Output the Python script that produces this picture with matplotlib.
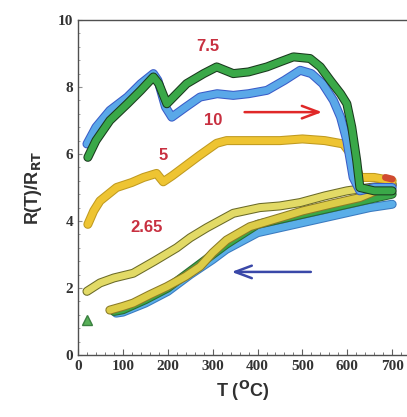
import numpy as np
import matplotlib
matplotlib.use("Agg")
import matplotlib.pyplot as plt
import matplotlib.patheffects as pe
from matplotlib.ticker import MultipleLocator

# heating curves
t_blue_up = [20, 40, 71, 110, 140, 168, 178, 195, 209, 240, 272, 310, 346, 380, 421, 460, 495, 520, 545, 569, 585, 599, 613, 628, 660, 700]
r_blue_up = [6.3, 6.8, 7.3, 7.7, 8.1, 8.4, 8.2, 7.4, 7.1, 7.4, 7.7, 7.8, 7.75, 7.8, 7.9, 8.2, 8.5, 8.4, 8.1, 7.6, 7.1, 6.4, 5.3, 4.9, 5.0, 5.0]

t_green_up = [22, 40, 71, 110, 140, 168, 180, 198, 220, 242, 280, 309, 346, 380, 421, 450, 480, 517, 540, 562, 585, 599, 610, 621, 628, 660, 700]
r_green_up = [5.9, 6.4, 7.0, 7.5, 7.9, 8.3, 8.1, 7.5, 7.8, 8.1, 8.4, 8.6, 8.4, 8.45, 8.6, 8.75, 8.9, 8.85, 8.6, 8.2, 7.8, 7.5, 6.8, 5.8, 5.0, 4.9, 4.9]

t_yel_up = [22, 35, 49, 86, 120, 146, 175, 190, 210, 235, 270, 309, 331, 400, 450, 500, 550, 591, 613, 628, 660, 700]
r_yel_up = [3.9, 4.3, 4.6, 5.0, 5.15, 5.3, 5.42, 5.17, 5.35, 5.6, 5.95, 6.32, 6.4, 6.4, 6.4, 6.45, 6.4, 6.3, 5.9, 5.3, 5.3, 5.2]

# cooling curves
t_265_dn = [700, 650, 599, 550, 495, 450, 405, 346, 287, 250, 220, 170, 123, 80, 49, 20]
r_265_dn = [5.07, 5.0, 4.9, 4.75, 4.55, 4.45, 4.4, 4.23, 3.8, 3.5, 3.2, 2.8, 2.44, 2.3, 2.15, 1.9]

t_yel_dn = [700, 628, 569, 500, 458, 383, 331, 300, 272, 240, 198, 160, 123, 100, 71]
r_yel_dn = [5.1, 4.7, 4.52, 4.3, 4.13, 3.83, 3.43, 3.05, 2.64, 2.35, 2.04, 1.8, 1.55, 1.45, 1.34]

t_green_dn = [700, 650, 600, 500, 400, 330, 300, 250, 200, 150, 100, 80]
r_green_dn = [4.8, 4.65, 4.5, 4.2, 3.9, 3.3, 3.0, 2.5, 2.0, 1.65, 1.35, 1.3]

t_blue_dn = [700, 650, 600, 500, 400, 330, 300, 250, 200, 150, 100, 85]
r_blue_dn = [4.5, 4.4, 4.25, 3.95, 3.65, 3.15, 2.85, 2.4, 1.9, 1.55, 1.28, 1.25]

labels = ["7.5", "10", "5", "2.65"]
label_xy = [(290, 9.2), (301, 7.0), (190, 5.97), (153, 3.8)]

fig = plt.figure(figsize=(4.07, 4.17), dpi=100)
ax = fig.add_axes([0.1916, 0.1487, 0.8084, 0.8033])


def band(x, y, face, edge, lw=5.0, z=2):
    ax.plot(x, y, color=face, lw=lw, solid_capstyle="round", solid_joinstyle="round", zorder=z,
            path_effects=[pe.Stroke(linewidth=lw + 1.5, foreground=edge), pe.Normal()])


band(t_blue_dn, r_blue_dn, "#5aaee8", "#3a7ac0", z=2)
band(t_green_dn, r_green_dn, "#3aa848", "#2a6a30", z=3)
band(t_yel_dn, r_yel_dn, "#dccc48", "#8a7a28", z=4)
band(t_265_dn, r_265_dn, "#e2da66", "#6a6a28", z=4)
band(t_yel_up, r_yel_up, "#eec432", "#c09a20", z=5)
band(t_blue_up, r_blue_up, "#5aa8e8", "#3a5cc8", z=6)
band(t_green_up, r_green_up, "#3aa848", "#1a3a1e", z=7)
ax.plot([685, 700], [5.3, 5.25], color="#d04a30", lw=5, solid_capstyle="round", zorder=6)
ax.plot([20], [1.05], ls="none", marker="^", ms=7, mfc="#58b058", mec="#3a8040", zorder=8)

for txt, (x, y) in zip(labels, label_xy):
    ax.text(x, y, txt, color="#c83040", fontsize=12, fontweight="bold",
            ha="center", va="center", family="Liberation Sans")

ax.annotate("", xy=(550, 7.25), xytext=(365, 7.25),
            arrowprops=dict(arrowstyle="->,head_length=1.2,head_width=0.45", color="#e02828", lw=1.8))
ax.annotate("", xy=(336, 2.48), xytext=(525, 2.48),
            arrowprops=dict(arrowstyle="->,head_length=1.2,head_width=0.45", color="#3a48a8", lw=1.8))

ax.set_xlim(0, 733)
ax.set_ylim(0, 10)
ax.spines["right"].set_visible(False)
for s in ["left", "bottom", "top"]:
    ax.spines[s].set_color("#505050")
    ax.spines[s].set_linewidth(1.0)
ax.xaxis.set_major_locator(MultipleLocator(100))
ax.xaxis.set_minor_locator(MultipleLocator(20))
ax.yaxis.set_major_locator(MultipleLocator(2))
ax.yaxis.set_minor_locator(MultipleLocator(0.4))
ax.tick_params(axis="x", which="both", direction="in", top=False, color="#606060")
ax.tick_params(axis="x", which="major", length=4)
ax.tick_params(axis="x", which="minor", length=2)
ax.tick_params(axis="y", which="both", direction="in", right=False, color="#909090")
ax.tick_params(axis="y", which="major", length=3)
ax.tick_params(axis="y", which="minor", length=1.5)
for lab in ax.get_xticklabels() + ax.get_yticklabels():
    lab.set_family("Liberation Serif")
    lab.set_fontweight("bold")
    lab.set_fontsize(11)
    lab.set_color("#333333")

ax.set_xlabel("T ($^{\\mathbf{O}}$C)", fontsize=13, fontweight="bold", family="Liberation Sans", color="#303030")
ax.set_ylabel("R(T)/R$_{\\mathbf{RT}}$", fontsize=13, fontweight="bold", family="Liberation Sans", color="#303030",
              labelpad=10)

fig.savefig("out.png", dpi=100)
